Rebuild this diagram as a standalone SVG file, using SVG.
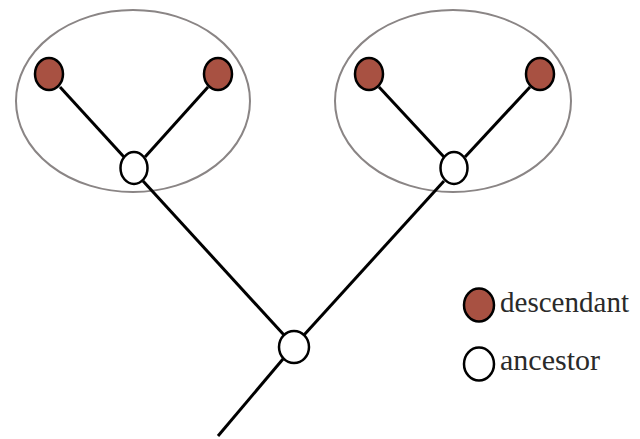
<svg xmlns="http://www.w3.org/2000/svg" width="640" height="439" viewBox="0 0 640 439">
  <style>
    .clade { fill: none; stroke: #8a8585; stroke-width: 2; }
    .edge { stroke: #000; stroke-width: 3; fill: none; }
    .desc { fill: #a85142; stroke: #000; stroke-width: 2.5; }
    .anc { fill: #fff; stroke: #000; stroke-width: 2.5; }
    .label { font-family: "Liberation Serif", serif; font-size: 30px; fill: #2a2a2a; }
  </style>
  <rect width="640" height="439" fill="#fff"/>

  <!-- clade outlines -->
  <g id="clades">
    <ellipse class="clade" cx="133" cy="101" rx="117" ry="91"/>
    <ellipse class="clade" cx="453" cy="101" rx="118" ry="91"/>
  </g>

  <!-- tree edges -->
  <g id="connectors">
    <line class="edge" x1="60" y1="87" x2="124" y2="157"/>
    <line class="edge" x1="208" y1="87" x2="145" y2="157"/>
    <line class="edge" x1="379" y1="87" x2="444" y2="157"/>
    <line class="edge" x1="530" y1="87" x2="465" y2="157"/>
    <line class="edge" x1="143" y1="181" x2="284" y2="335"/>
    <line class="edge" x1="444" y1="181" x2="304" y2="335"/>
    <line class="edge" x1="283" y1="359" x2="218" y2="436"/>
  </g>

  <g id="desc-1"><ellipse class="desc" cx="49" cy="74" rx="14" ry="16"/></g>
  <g id="desc-2"><ellipse class="desc" cx="218" cy="74" rx="14" ry="16"/></g>
  <g id="desc-3"><ellipse class="desc" cx="369" cy="74" rx="14" ry="16"/></g>
  <g id="desc-4"><ellipse class="desc" cx="540" cy="74" rx="14" ry="16"/></g>
  <g id="anc-left"><ellipse class="anc" cx="134" cy="168" rx="13.5" ry="16"/></g>
  <g id="anc-right"><ellipse class="anc" cx="454" cy="168" rx="13.5" ry="16"/></g>
  <g id="anc-root"><ellipse class="anc" cx="294" cy="347" rx="15" ry="16"/></g>

  <!-- legend -->
  <g id="legend-descendant">
    <ellipse class="desc" cx="479" cy="305" rx="15" ry="16.5"/>
    <text class="label" x="500" y="312" textLength="129" lengthAdjust="spacingAndGlyphs">descendant</text>
  </g>
  <g id="legend-ancestor">
    <ellipse class="anc" cx="479" cy="364" rx="15" ry="16.5"/>
    <text class="label" x="500" y="370" textLength="100" lengthAdjust="spacingAndGlyphs">ancestor</text>
  </g>
</svg>
